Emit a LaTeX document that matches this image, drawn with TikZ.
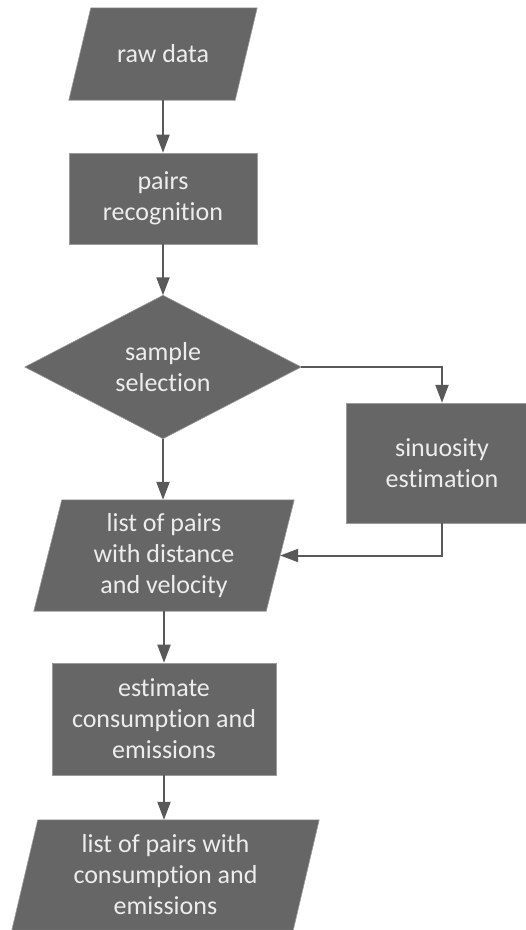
\documentclass[tikz,border=0pt]{standalone}
\usepackage{fontspec}
\setmainfont{Carlito}[Ligatures=NoCommon]
\usetikzlibrary{arrows.meta,backgrounds,calc}
\definecolor{boxfill}{HTML}{666666}
\definecolor{boxedge}{HTML}{9A9A9A}
\definecolor{txt}{HTML}{EDEDED}
\definecolor{arr}{HTML}{595959}
\begin{document}
\begin{tikzpicture}[x=1pt,y=-1pt,
  lbl/.style={text=txt, align=center, font=\fontsize{26}{31}\selectfont, inner sep=0pt},
  procbox/.style={lbl, rectangle, fill=boxfill, draw=boxedge, line width=0.6pt},
  slot/.style={lbl, rectangle, draw=none},
  shapefill/.style={fill=boxfill, draw=boxedge, line width=0.6pt},
  flow/.style={draw=arr, line width=2pt, -{Triangle[length=18pt,width=13pt]}}
]
\useasboundingbox (0,0) rectangle (526,930);

\node[slot, minimum width=166pt, minimum height=92pt] (raw) at (163,54) {raw data};
\node[procbox, minimum width=188pt, minimum height=91pt] (pairs) at (163,198.5) {pairs\\recognition};
\node[slot, minimum width=276pt, minimum height=143pt] (sel) at (163,367) {sample\\selection};
\node[slot, minimum width=192pt, minimum height=120pt] (sin) at (442,463) {sinuosity\\estimation};
\node[slot, minimum width=232pt, minimum height=111pt] (lst) at (164,555.5) {list of pairs\\with distance\\and velocity};
\node[procbox, minimum width=224pt, minimum height=112pt] (est) at (164,719) {estimate\\consumption and\\emissions};
\node[slot, minimum width=281pt, minimum height=110pt] (out) at (165.5,875) {list of pairs with\\consumption and\\emissions};

\begin{pgfonlayer}{background}
  \fill[white] (0,0) rectangle (526,930);
  \path[shapefill] ([xshift=-11pt]raw.south west) -- ([xshift=-11pt]raw.south east)
    -- ([xshift=11pt]raw.north east) -- ([xshift=11pt]raw.north west) -- cycle;
  \path[shapefill] (sel.north) -- (sel.east) -- (sel.south) -- (sel.west) -- cycle;
  \path[shapefill] (sin.north west) rectangle ([xshift=-12pt]sin.south east);
  \path[shapefill] ([xshift=-14pt]lst.south west) -- ([xshift=-14pt]lst.south east)
    -- ([xshift=14pt]lst.north east) -- ([xshift=14pt]lst.north west) -- cycle;
  \path[shapefill] ([xshift=-13pt]out.south west) -- ([xshift=-13pt]out.south east)
    -- ([xshift=13pt]out.north east) -- ([xshift=13pt]out.north west) -- cycle;
\end{pgfonlayer}

\draw[flow] (raw.south) -- (pairs.north);
\draw[flow] (pairs.south) -- (sel.north);
\draw[flow] (sel.south) -- (sel.south |- lst.north);
\draw[flow] (sel.east) -| (sin.north);
\draw[flow] (sin.south) |- (lst.east);
\draw[flow] (lst.south) -- (lst.south |- est.north);
\draw[flow] (est.south) -- (est.south |- out.north);
\end{tikzpicture}
\end{document}
